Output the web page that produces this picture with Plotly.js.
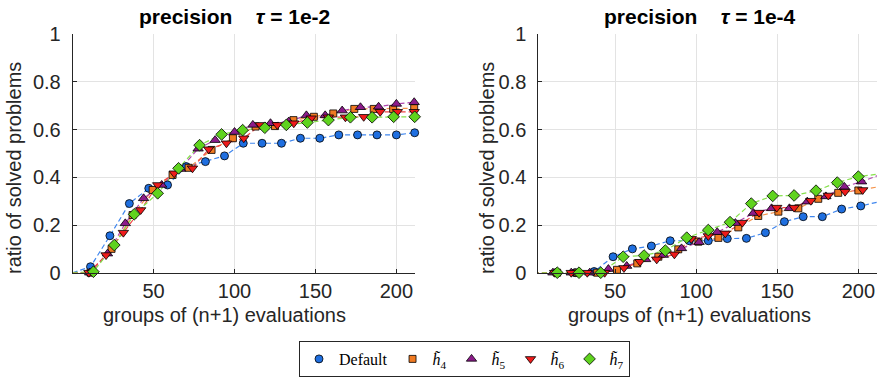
<!DOCTYPE html>
<html><head><meta charset="utf-8">
<script src="https://cdn.plot.ly/plotly-3.0.1.min.js"></script>
<style>html,body{margin:0;padding:0;background:#fff;}#chart{width:877px;height:379px;}</style>
</head><body><div id="chart"></div>
<script>
// ---------- data ----------
const seriesNames = ['Default', '<i>h\u0303</i><sub>4</sub>', '<i>h\u0303</i><sub>5</sub>', '<i>h\u0303</i><sub>6</sub>', '<i>h\u0303</i><sub>7</sub>'];
const startX = 0, startY = 0;   // every profile starts at zero

// left panel: precision tau = 1e-2
const leftDefaultX = [11, 23, 35, 47, 58.6, 70.2, 82, 93.8, 105.4, 117, 129, 140.7, 152.7, 164.4, 176, 188, 200, 211.3];
const leftDefaultY = [0.025, 0.155, 0.29, 0.354, 0.368, 0.445, 0.466, 0.49, 0.543, 0.543, 0.543, 0.564, 0.564, 0.578, 0.578, 0.578, 0.578, 0.587];
const leftH4X = [11, 24, 37, 49.4, 61.7, 71.6, 85.8, 99, 113, 125, 136.4, 149, 161, 174, 186, 198, 211];
const leftH4Y = [0, 0.1, 0.242, 0.347, 0.41, 0.44, 0.515, 0.564, 0.613, 0.615, 0.64, 0.654, 0.668, 0.687, 0.687, 0.687, 0.69];
const leftH5X = [10.5, 21.5, 32.5, 43.8, 55, 66.5, 77.5, 88, 100, 111.3, 122.2, 133.5, 144.4, 156, 166.5, 177.8, 189, 200, 211];
const leftH5Y = [0, 0.08, 0.207, 0.312, 0.368, 0.435, 0.52, 0.556, 0.59, 0.62, 0.627, 0.634, 0.66, 0.66, 0.68, 0.694, 0.696, 0.708, 0.715];
const leftH6X = [10, 20.6, 31.3, 42, 52.5, 62.7, 74, 84, 95, 105.7, 116, 126.4, 136.6, 147.3, 158, 168.5, 179.8, 190, 200.6, 211];
const leftH6Y = [0, 0.074, 0.168, 0.263, 0.368, 0.417, 0.438, 0.518, 0.543, 0.564, 0.62, 0.62, 0.627, 0.648, 0.652, 0.652, 0.654, 0.675, 0.675, 0.675];
const leftH7X = [12.8, 25.7, 38, 52.5, 65.4, 78.4, 92, 105, 118.7, 132, 145, 158, 171.6, 185, 198.3, 211.3];
const leftH7Y = [0.004, 0.116, 0.245, 0.333, 0.438, 0.535, 0.58, 0.598, 0.608, 0.62, 0.63, 0.64, 0.652, 0.652, 0.654, 0.654];

// right panel: precision tau = 1e-4
const rightDefaultX = [13.7, 25.4, 37.1, 48.8, 60.7, 72.4, 84, 95.8, 107.5, 119.2, 131, 142.7, 154.4, 166, 177.8, 189.7, 201.5, 213];
const rightDefaultY = [0, 0, 0.005, 0.067, 0.1, 0.112, 0.134, 0.134, 0.134, 0.143, 0.144, 0.168, 0.214, 0.235, 0.235, 0.267, 0.28, 0.298];
const rightH4X = [14.3, 26.6, 39, 51.2, 63.7, 76.7, 89, 101.4, 113.7, 126, 138.3, 150.7, 163, 175.3, 187.6, 200, 212];
const rightH4Y = [0, 0, 0, 0.012, 0.039, 0.067, 0.098, 0.13, 0.146, 0.19, 0.238, 0.256, 0.27, 0.31, 0.335, 0.345, 0.36];
const rightH5X = [11.7, 23, 34.4, 45.9, 57.2, 68.9, 79.8, 91, 101.8, 113, 124.2, 135.3, 146.5, 157.5, 168.5, 180, 191.4, 202, 213];
const rightH5Y = [0, 0, 0, 0.015, 0.028, 0.056, 0.074, 0.102, 0.128, 0.17, 0.208, 0.25, 0.27, 0.27, 0.298, 0.32, 0.36, 0.382, 0.41];
const rightH6X = [12.8, 23, 32.9, 43.6, 55.5, 65.4, 75.7, 86.6, 97, 107.5, 118, 128.5, 138.8, 149.7, 160.4, 170.7, 181.5, 191.8, 202.7];
const rightH6Y = [0, 0, 0, 0, 0.02, 0.046, 0.056, 0.077, 0.142, 0.154, 0.165, 0.21, 0.252, 0.273, 0.273, 0.302, 0.324, 0.34, 0.347];
const rightH7X = [14.4, 27.8, 41.2, 55, 67.9, 81, 94.2, 107.5, 120.9, 134, 147.2, 160.4, 173.9, 187, 200, 213];
const rightH7Y = [0, 0, 0, 0.067, 0.072, 0.093, 0.147, 0.179, 0.212, 0.29, 0.322, 0.324, 0.344, 0.378, 0.403, 0.414];

const xTicks = [50, 100, 150, 200];
const yTicks = [0, 0.2, 0.4, 0.6, 0.8, 1];
const yTickText = ['0', '0.2', '0.4', '0.6', '0.8', '1'];

// ---------- styles ----------
const styles = [
  {symbol: 'circle', size: 8, color: '#1F6FE0', line: '#3F86EE'},
  {symbol: 'square', size: 7, color: '#F07A22', line: '#F5934A'},
  {symbol: 'triangle-up', size: 9, color: '#8C1B8A', line: '#B048B0'},
  {symbol: 'triangle-down', size: 9, color: '#EE1B1B', line: '#F04646'},
  {symbol: 'diamond', size: 9, color: '#5FD31E', line: '#86E04C'}
];

const panels = [
  {xa: 'x', ya: 'y', series: [[leftDefaultX, leftDefaultY], [leftH4X, leftH4Y], [leftH5X, leftH5Y], [leftH6X, leftH6Y], [leftH7X, leftH7Y]]},
  {xa: 'x2', ya: 'y2', series: [[rightDefaultX, rightDefaultY], [rightH4X, rightH4Y], [rightH5X, rightH5Y], [rightH6X, rightH6Y], [rightH7X, rightH7Y]]}
];

const lineTraces = [], markerTraces = [];
panels.forEach((p, pi) => {
  p.series.forEach((s, si) => {
    const st = styles[si];
    lineTraces.push({
      x: [startX].concat(s[0]), y: [startY].concat(s[1]), xaxis: p.xa, yaxis: p.ya,
      mode: 'lines', line: {color: st.line, width: 1.2, dash: '5px,3px'},
      showlegend: false, hoverinfo: 'skip'
    });
    markerTraces.push({
      x: s[0], y: s[1], xaxis: p.xa, yaxis: p.ya, mode: 'markers', name: seriesNames[si],
      legendgroup: 'g' + si, showlegend: pi === 0, cliponaxis: false,
      marker: {symbol: st.symbol, size: st.size, color: st.color, line: {color: '#000', width: 0.8}}
    });
  });
});

const axisFont = {family: 'Liberation Sans, Arial, sans-serif', size: 20, color: '#262626'};
function xAxis(domain, range, anchor) {
  return {domain, range, anchor, tickvals: xTicks, showgrid: true, gridcolor: '#e3e3e3', gridwidth: 1,
    zeroline: false, showline: true, linecolor: '#262626', linewidth: 1, ticks: 'inside', ticklen: 4,
    tickcolor: '#262626', tickfont: axisFont, ticklabelstandoff: 0, fixedrange: true};
}
function yAxis(domain, anchor) {
  return {domain, range: [0, 1], anchor, tickvals: yTicks, ticktext: yTickText, showgrid: true,
    gridcolor: '#e3e3e3', gridwidth: 1, zeroline: false, showline: true, linecolor: '#262626', linewidth: 1,
    ticks: 'inside', ticklen: 4, tickcolor: '#262626', tickfont: axisFont, ticklabelstandoff: 7, fixedrange: true};
}

const W = 877, H = 379;
const px = v => v / W, py = v => 1 - v / H;
const yDom = [py(272.7), py(34.3)];
const labelFont = {family: 'Liberation Sans, Arial, sans-serif', size: 20, color: '#262626'};
const titleFont = {family: 'Liberation Sans, Arial, sans-serif', size: 21, color: '#000'};
const sp = '\u00a0\u00a0\u00a0\u00a0';
function ann(text, x, y, font, angle) {
  return {text, x: px(x), y: py(y), xref: 'paper', yref: 'paper', xanchor: 'center', yanchor: 'middle',
    showarrow: false, font, textangle: angle || 0};
}

const layout = {
  width: W, height: H, margin: {l: 0, r: 0, t: 0, b: 0}, paper_bgcolor: '#fff', plot_bgcolor: '#fff',
  showlegend: true,
  xaxis: xAxis([px(72.7), px(415)], [0, 211.5], 'y'),
  yaxis: yAxis(yDom, 'x'),
  xaxis2: xAxis([px(538.3), 1], [2.7, 211.5], 'y2'),
  yaxis2: yAxis(yDom, 'x2'),
  legend: {orientation: 'h', x: px(464.5), xanchor: 'center', y: py(341), yanchor: 'top',
    bgcolor: '#fff', bordercolor: '#262626', borderwidth: 1, itemwidth: 30,
    font: {family: 'Liberation Serif, Times New Roman, serif', size: 16, color: '#000'}},
  annotations: [
    ann('<b>precision' + sp + '<i>\u03c4</i> = 1e-2</b>', 234, 17, titleFont),
    ann('<b>precision' + sp + '<i>\u03c4</i> = 1e-4</b>', 700, 17, titleFont),
    ann('groups of (n+1) evaluations', 224, 315, labelFont),
    ann('groups of (n+1) evaluations', 689.5, 315, labelFont),
    ann('ratio of solved problems', 14, 168, labelFont, -90),
    ann('ratio of solved problems', 487, 168, labelFont, -90)
  ]
};

Plotly.newPlot('chart', lineTraces.concat(markerTraces), layout, {staticPlot: true, displayModeBar: false});
</script>
</body></html>
